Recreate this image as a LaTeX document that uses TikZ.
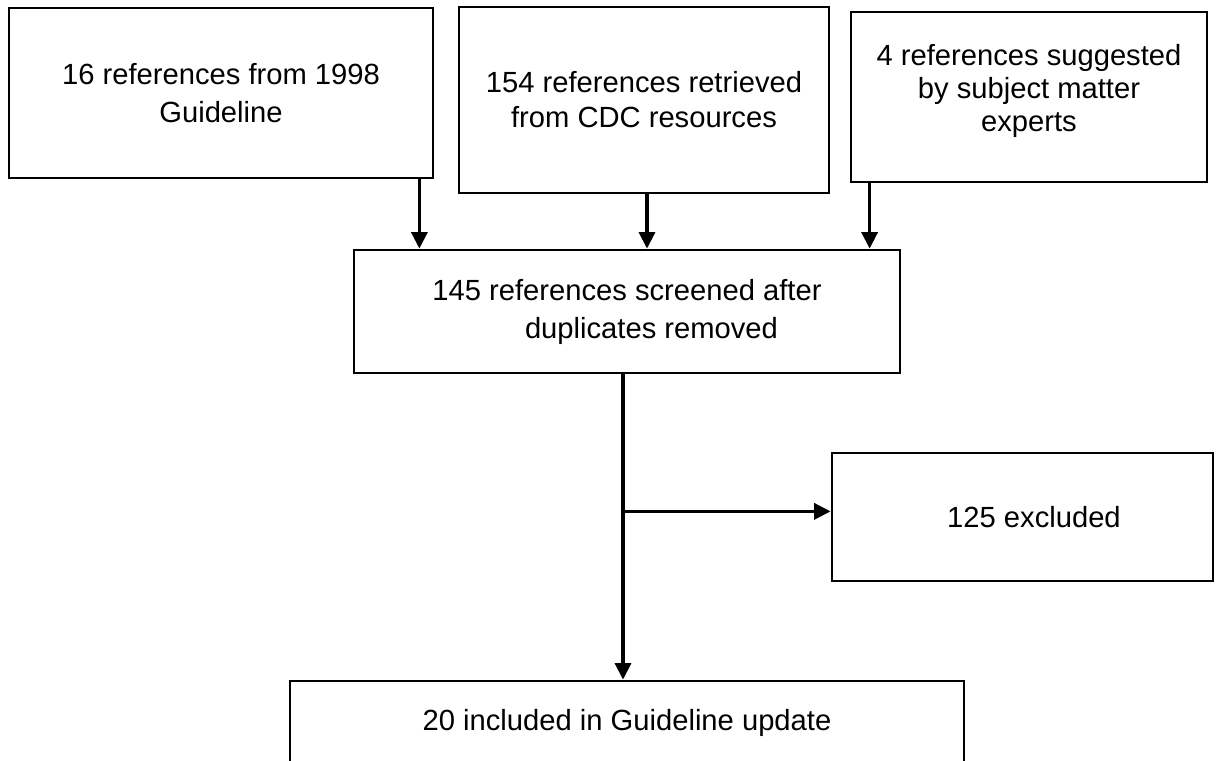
\documentclass[tikz,border=0pt]{standalone}
\usepackage{fontspec}
\setmainfont{Liberation Sans}
\usetikzlibrary{positioning,arrows.meta}
\tikzset{ref node/.style={rectangle,draw,line width=0.055cm,inner sep=0pt,align=center,font=\fontsize{16.6}{21.6}\selectfont},
flow/.style={line width=0.065cm,-{Triangle[length=0.33cm,width=0.32cm]}} }

\begin{document}
\begin{tikzpicture}
\useasboundingbox (0,0) rectangle (24.5,-15.22);
\begin{scope}[on grid]

  \node[ref node, minimum width=8.48cm, minimum height=3.4cm] (guide) at (4.42,-1.86) {16 references from 1998\\Guideline};
  \node[ref node, minimum width=7.4cm, minimum height=3.72cm, font=\fontsize{16.6}{19.9}\selectfont] (cdc) at (12.88,-2.0) {154 references retrieved\\from CDC resources};
  \node[ref node, minimum width=7.12cm, minimum height=3.4cm] (experts) at (20.58,-1.94) {};
  \node[align=center, font=\fontsize{16.6}{18.8}\selectfont] (expertstext) at ([yshift=0.13cm]experts.center) {4 references suggested\\by subject matter\\experts};
  \node[ref node, minimum width=10.92cm, minimum height=2.46cm] (screen) at (12.54,-6.23) {145 references screened after\\\hspace*{0.98cm}duplicates removed};
  \node[ref node, minimum width=7.62cm, minimum height=2.56cm] (excl) [below right=4.11cm and 7.91cm of screen] {\hspace*{0.46cm}125 excluded};
  \node[ref node, minimum width=13.48cm, minimum height=1.66cm] (incl) [below=8.22cm of screen] {20 included in Guideline update};

  \coordinate (split) at ([xshift=-0.08cm,yshift=-2.74cm]screen.south);

  \draw[flow] ([xshift=-0.3cm]guide.south east) -- ([xshift=-0.3cm]guide.south east |- screen.north);
  \draw[flow] ([xshift=0.06cm]cdc.south) -- ([xshift=0.06cm]cdc.south |- screen.north);
  \draw[flow] ([xshift=0.4cm]experts.south west) -- ([xshift=0.4cm]experts.south west |- screen.north);
  \draw[flow] ([xshift=-0.08cm]screen.south) -- ([xshift=-0.08cm]screen.south |- incl.north);
  \draw[flow] (split) -- (split -| excl.west);

\end{scope}
\end{tikzpicture}
\end{document}
